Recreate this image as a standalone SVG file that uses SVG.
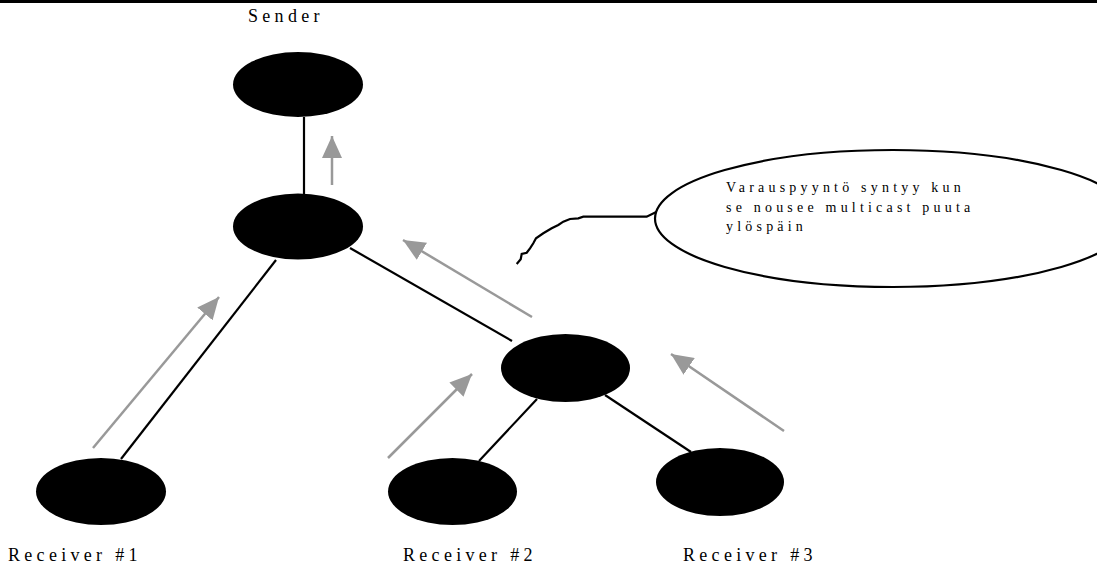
<svg xmlns="http://www.w3.org/2000/svg" width="1097" height="566" viewBox="0 0 1097 566">
  <style>
    .node { fill: #000; }
    .link { stroke: #000; stroke-width: 2.2; fill: none; }
    .flow { stroke: #999; stroke-width: 2.5; fill: none; marker-end: url(#head); }
    .label { font-family: "Liberation Serif", "Times New Roman", serif; font-size: 18px; letter-spacing: 4.3px; fill: #000; }
    .note { font-family: "Liberation Serif", "Times New Roman", serif; font-size: 14px; letter-spacing: 4.2px; fill: #000; }
  </style>
  <defs>
    <marker id="head" markerUnits="userSpaceOnUse" viewBox="0 0 22 20" refX="22" refY="10" markerWidth="22" markerHeight="20" orient="auto">
      <path d="M0,0 L22,10 L0,20 Z" fill="#999"/>
    </marker>
  </defs>

  <rect x="0" y="0" width="1097" height="3" fill="#000"/>

  <!-- tree links and reservation flow arrows -->
  <g id="connectors">
    <line class="link" x1="304" y1="117" x2="304" y2="194"/>
    <line class="link" x1="276" y1="260" x2="121" y2="459"/>
    <line class="link" x1="350" y1="248" x2="512" y2="341"/>
    <line class="link" x1="537" y1="399" x2="479" y2="461"/>
    <line class="link" x1="605" y1="395" x2="691" y2="452"/>

    <line class="flow" x1="332" y1="185" x2="332" y2="136"/>
    <line class="flow" x1="93" y1="448" x2="219" y2="297"/>
    <line class="flow" x1="532" y1="317" x2="403" y2="240"/>
    <line class="flow" x1="388" y1="458" x2="472" y2="374"/>
    <line class="flow" x1="784" y1="431" x2="671" y2="354"/>
  </g>

  <g id="sender">
    <ellipse class="node" cx="298" cy="84.5" rx="65" ry="32.5"/>
    <text class="label" x="248" y="22">Sender</text>
  </g>
  <g id="router-top">
    <ellipse class="node" cx="298" cy="226.5" rx="65" ry="33"/>
  </g>
  <g id="router-right">
    <ellipse class="node" cx="565.5" cy="368" rx="64.5" ry="34"/>
  </g>
  <g id="receiver-1">
    <ellipse class="node" cx="101" cy="491.5" rx="65" ry="33.5"/>
    <text class="label" x="8" y="561">Receiver #1</text>
  </g>
  <g id="receiver-2">
    <ellipse class="node" cx="452.5" cy="491.5" rx="64.5" ry="33.5"/>
    <text class="label" x="403" y="561">Receiver #2</text>
  </g>
  <g id="receiver-3">
    <ellipse class="node" cx="720" cy="482" rx="64" ry="34"/>
    <text class="label" x="683" y="561">Receiver #3</text>
  </g>

  <!-- callout bubble -->
  <g id="callout">
    <path d="M516.7,264 L520.7,259.3 L521.7,254 L526.7,252.7 L530,248.3 L533.3,243.3 L536,238.3 L543.3,233.3 L551.7,228.3 L558.3,225 L563.3,221.7 L570,219 L578.3,218.3 L583.3,216.7 L646.7,216.7 L656.7,211.7" fill="none" stroke="#000" stroke-width="2.2"/>
    <ellipse cx="893" cy="218.5" rx="238" ry="68.5" fill="#fff" stroke="#000" stroke-width="2.2"/>
    <text class="note" x="726" y="192">Varauspyyntö syntyy kun</text>
    <text class="note" x="726" y="212">se nousee multicast puuta</text>
    <text class="note" x="726" y="231">ylöspäin</text>
  </g>
</svg>
